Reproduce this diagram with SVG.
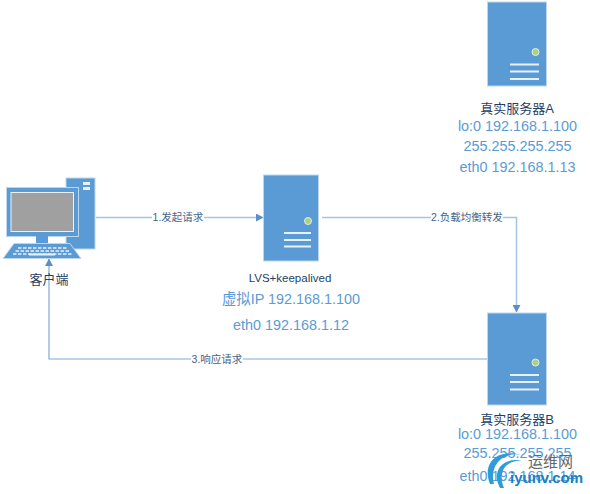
<svg xmlns="http://www.w3.org/2000/svg" width="590" height="494" viewBox="0 0 590 494">
<style>
.srv{fill:#5b9bd5;stroke:#bdd7ee;stroke-width:1}
.led{fill:#a9d18e;stroke:#e2f0d9;stroke-width:1}
.bar{stroke:#e8f1fa;stroke-width:2;fill:none}
.con{fill:none;stroke:#a3c4e5;stroke-width:1.5}
.lbl{font:10.500px "Liberation Sans","Noto Sans CJK SC",sans-serif;fill:#44648a;text-anchor:middle}
.bg{fill:#fff}
.name{font:13px "Liberation Sans","Noto Sans CJK SC",sans-serif;fill:#1f3f66;text-anchor:middle}
.ip{font:14.400px "Liberation Sans","Noto Sans CJK SC",sans-serif;fill:#5b9bd5;text-anchor:middle}
</style>
<defs>
<marker id="arr" markerUnits="userSpaceOnUse" markerWidth="8" markerHeight="8" refX="7" refY="4" orient="auto"><path d="M0 0L7.500 4L0 8Z" fill="#5b8fc9"/></marker>
</defs>
<g id="connectors">
<path class="con" d="M96 217.500H263" marker-end="url(#arr)"/>
<path class="con" d="M322 217.500H516.500V312" marker-end="url(#arr)"/>
<path d="M487 359H49V259" fill="none" stroke="#7fa9d8" stroke-width="1.200" marker-end="url(#arr)"/>
<rect class="bg" x="152" y="211" width="52" height="13"/>
<text class="lbl" x="178" y="221">1.发起请求</text>
<rect class="bg" x="431" y="211" width="72" height="13"/>
<text class="lbl" x="467" y="221">2.负载均衡转发</text>
<rect class="bg" x="191" y="352" width="52" height="13"/>
<text class="lbl" x="217" y="363">3.响应请求</text>
</g>
<g id="client">
<rect class="srv" x="66" y="178" width="29" height="71"/>
<rect x="83" y="182" width="7" height="3" fill="#e8f1fa"/>
<rect x="83" y="187" width="7" height="3" fill="#e8f1fa"/>
<rect class="srv" x="6.500" y="187.500" width="72" height="49"/>
<rect x="11" y="192.500" width="62.500" height="39" fill="#a0a0a0" stroke="#e8f1fa" stroke-width="1"/>
<rect x="36" y="236" width="12" height="7.500" fill="#5b9bd5"/>
<path d="M3 258.500L14 243.500H70L81 258.500Z" class="srv"/>
<path d="M18 248H67M15.500 251H69M13 254H72" stroke="#e8f1fa" stroke-width="1.500" stroke-dasharray="3.500 1.500" fill="none"/>
<rect x="29" y="253.500" width="26" height="2" fill="#e8f1fa"/>
<text class="name" x="49" y="284">客户端</text>
</g>
<g id="lvs">
<rect class="srv" x="263.500" y="175" width="55" height="86"/>
<circle class="led" cx="308" cy="221" r="3.500"/>
<path class="bar" d="M284 233H311M284 240H311M284 246.500H311"/>
<text class="name" x="290" y="282" style="font-size:11.500px">LVS+keepalived</text>
<text class="ip" x="291" y="304">虚拟IP 192.168.1.100</text>
<text class="ip" x="291" y="330">eth0 192.168.1.12</text>
</g>
<g id="serverA">
<rect class="srv" x="487.500" y="2" width="59" height="84"/>
<circle class="led" cx="535.500" cy="52" r="3.500"/>
<path class="bar" d="M510 64.500H539M510 71.500H539M510 79H539"/>
<text class="name" x="517" y="113">真实服务器A</text>
<text class="ip" x="517.500" y="131">lo:0 192.168.1.100</text>
<text class="ip" x="517.500" y="151">255.255.255.255</text>
<text class="ip" x="517.500" y="172">eth0 192.168.1.13</text>
</g>
<g id="serverB">
<rect class="srv" x="487.500" y="313" width="59" height="92"/>
<circle class="led" cx="535.500" cy="362.500" r="3.500"/>
<path class="bar" d="M510 375H539M510 382H539M510 389.500H539"/>
<text class="name" x="517" y="424">真实服务器B</text>
<text class="ip" x="517.500" y="439">lo:0 192.168.1.100</text>
<text class="ip" x="517.500" y="458">255.255.255.255</text>
<text class="ip" x="517.500" y="481">eth0 192.168.1.14</text>
</g>
<g id="watermark">
<path d="M490 484C482 464 496 448 522 455C502 451 489 466 494 484Z" fill="#2f9bd8"/>
<path d="M500 488C491 472 502 456 523 461C506 459 497 472 504 488Z" fill="#2f9bd8"/>
<text x="528" y="467" style="font:15px 'Liberation Sans','Noto Sans CJK SC',sans-serif;fill:#666">运维网</text>
<text x="510" y="483" style="font:bold 15px 'Liberation Sans',sans-serif;fill:#1b7fc4">iyunv.com</text>
</g>
</svg>
